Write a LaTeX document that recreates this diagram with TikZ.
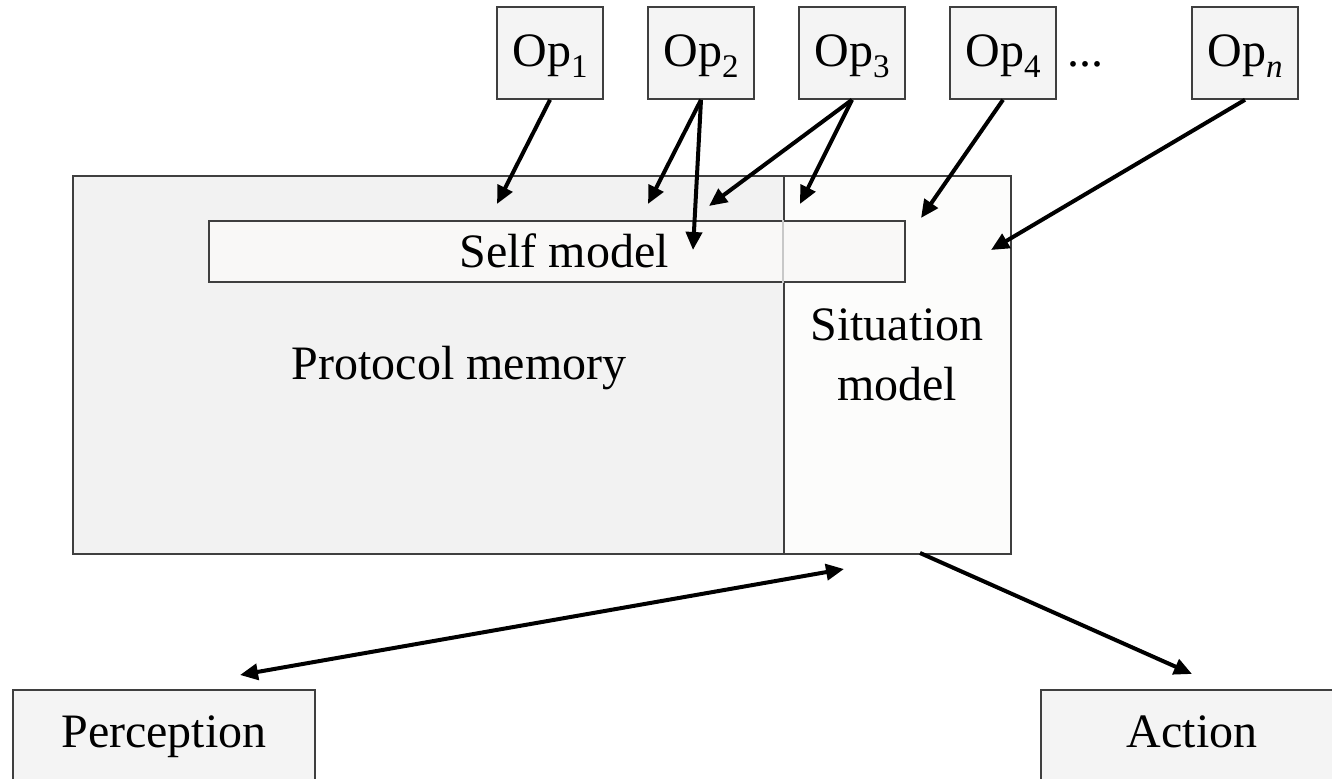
\documentclass[tikz,border=0pt]{standalone}
\usepackage{fontspec}
\setmainfont{Liberation Serif}
\usetikzlibrary{arrows.meta}

\definecolor{edgegray}{HTML}{3F3F3F}
\definecolor{opfill}{HTML}{F4F4F4}
\definecolor{memfill}{HTML}{F2F2F2}
\definecolor{sitfill}{HTML}{FCFCFB}
\definecolor{selffill}{HTML}{F9F8F7}
\definecolor{faintline}{HTML}{C8C8C8}

% operator name with a lowered index
\newcommand{\opidx}[1]{Op\raisebox{-5.5pt}{\fontsize{16.5}{16.5}\selectfont #1}}

\tikzset{
  label font/.style={font=\fontsize{24}{30}\selectfont},
  opbox/.style={draw=edgegray, line width=0.8pt, fill=opfill,
    minimum width=53pt, minimum height=46pt, inner sep=0pt, label font},
  region/.style={draw=edgegray, line width=0.8pt, minimum height=189pt, inner sep=0pt},
  iobox/.style={draw=edgegray, line width=0.8pt, fill=opfill,
    minimum width=151pt, minimum height=50pt, inner sep=0pt},
  txt/.style={label font, inner sep=0pt, align=center},
  link/.style={line width=2pt, -{Triangle[length=9pt,width=8pt]}},
  duplex/.style={line width=2pt, {Triangle[length=9pt,width=8pt]}-{Triangle[length=9pt,width=8pt]}},
}

\begin{document}
\begin{tikzpicture}[x=0.5pt, y=-0.5pt]
\useasboundingbox (0,0) rectangle (1332,779);

% operator boxes
\node[opbox] (op1) at (550,53) {};
\node[opbox] (op2) at (701,53) {};
\node[opbox] (op3) at (852,53) {};
\node[opbox] (op4) at (1003,53) {};
\node[opbox] (opn) at (1245,53) {};
\node[txt, anchor=base] (op1text) at (550,67) {\opidx{1}};
\node[txt, anchor=base] (op2text) at (701,67) {\opidx{2}};
\node[txt, anchor=base] (op3text) at (852,67) {\opidx{3}};
\node[txt, anchor=base] (op4text) at (1003,67) {\opidx{4}};
\node[txt, anchor=base] (opntext) at (1245,67) {\opidx{\textit{n}}};
\node[txt, anchor=base] (dots) at (1085,67) {...};

% memory: protocol memory and situation model side by side
\node[region, fill=memfill, minimum width=355.5pt] (pm) at (428.5,365) {};
\node[region, fill=sitfill, minimum width=113.5pt] (sm) at (897.5,365) {};
\node[txt] (pmtext) at (459,368) {Protocol memory};
\node[txt] (smtext) at (897,355) {Situation\\model};

% self model strip across both regions
\node[draw=edgegray, line width=0.8pt, fill=selffill, minimum width=348pt,
      minimum height=30.5pt, inner sep=0pt] (self) at (557,251.5) {};
\draw[faintline, line width=0.8pt] (sm.north west |- self.north) -- (sm.north west |- self.south);
\node[txt] (selftext) at (564,251) {Self model};

% perception and action
\node[iobox] (perc) at (164,740) {};
\node[txt, anchor=base] (perctext) at (164,747) {Perception};
\node[iobox] (act) at (1192,740) {};
\node[txt, anchor=base] (acttext) at (1192,747) {Action};

% arrow targets
\coordinate (t1) at (497,204);
\coordinate (t2a) at (648,204);
\coordinate (t2b) at (693,250);
\coordinate (t3a) at (709,206);
\coordinate (t3b) at (800,204);
\coordinate (t4) at (921,218);
\coordinate (tn) at (991,250);
\coordinate (pin) at (240,675);
\coordinate (pout) at (844,569);
\coordinate (aout) at (920,553);
\coordinate (ain) at (1192,674);

\draw[link] (op1.south) -- (t1);
\draw[link] (op2.south) -- (t2a);
\draw[link] (op2.south) -- (t2b);
\draw[link] (op3.south) -- (t3a);
\draw[link] (op3.south) -- (t3b);
\draw[link] (op4.south) -- (t4);
\draw[link] (opn.south) -- (tn);
\draw[duplex] (pin) -- (pout);
\draw[link] (aout) -- (ain);
\end{tikzpicture}
\end{document}
